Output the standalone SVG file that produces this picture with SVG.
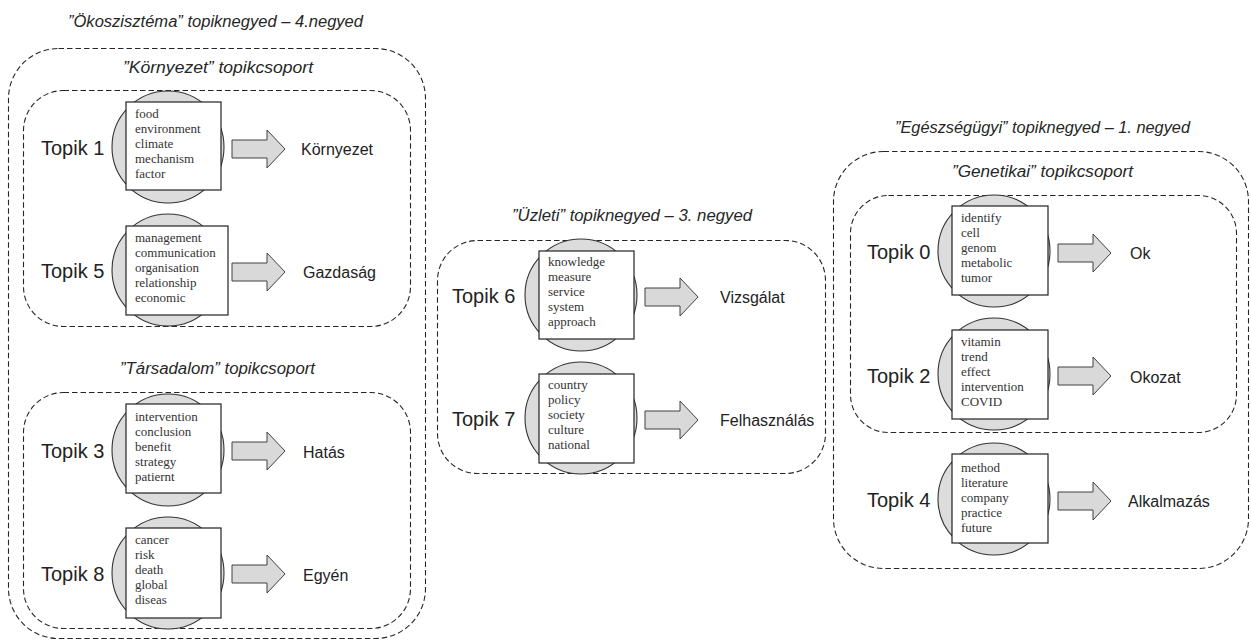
<svg xmlns="http://www.w3.org/2000/svg" xmlns:xlink="http://www.w3.org/1999/xlink" width="1251" height="641" viewBox="0 0 1251 641">
  <style>
    .bg { fill: #ffffff; }
    .frame { fill: none; stroke: #262626; stroke-width: 1.1; stroke-dasharray: 5.5 3; }
    .title { font-family: "Liberation Sans", Arial, sans-serif; font-style: italic; font-size: 16px; fill: #262626; text-anchor: middle; }
    .disc { fill: #dcdcdc; stroke: #333333; stroke-width: 1.1; }
    .card { fill: #ffffff; stroke: #222222; stroke-width: 1.2; }
    .words { font-family: "Liberation Serif", "Times New Roman", serif; font-size: 13px; fill: #333333; }
    .topic { font-family: "Liberation Sans", Arial, sans-serif; font-size: 20px; fill: #222222; }
    .result { font-family: "Liberation Sans", Arial, sans-serif; font-size: 16px; fill: #222222; }
    .arrow { fill: #d9d9d9; stroke: #404040; stroke-width: 1; }
  </style>
  <defs>
    <!-- block arrow, tail at x=0, centred on y=0 -->
    <path id="blockArrow" class="arrow" d="M0,-9 H35 V-19 L53,0 L35,19 V9 H0 Z"/>
  </defs>

  <rect class="bg" x="0" y="0" width="1251" height="641"/>

  <!-- quarter and group frames -->
  <g id="frames">
    <rect id="quarter-4" class="frame" x="8.5" y="48.5" width="417" height="590" rx="50"/>
    <rect id="group-kornyezet" class="frame" x="23.5" y="90.5" width="387" height="236" rx="40"/>
    <rect id="group-tarsadalom" class="frame" x="23.5" y="392.5" width="387" height="236" rx="40"/>
    <rect id="quarter-3" class="frame" x="437.5" y="240.5" width="388" height="233" rx="40"/>
    <rect id="quarter-1" class="frame" x="833.5" y="151.5" width="415" height="417" rx="50"/>
    <rect id="group-genetikai" class="frame" x="850.5" y="195.5" width="386" height="237" rx="38"/>
  </g>

  <g id="titles">
    <text class="title" x="215.5" y="27" textLength="295" lengthAdjust="spacingAndGlyphs">”Ökoszisztéma” topiknegyed – 4.negyed</text>
    <text class="title" x="218" y="73" textLength="190" lengthAdjust="spacingAndGlyphs">”Környezet” topikcsoport</text>
    <text class="title" x="217.5" y="374" textLength="195" lengthAdjust="spacingAndGlyphs">”Társadalom” topikcsoport</text>
    <text class="title" x="632" y="221" textLength="240" lengthAdjust="spacingAndGlyphs">”Üzleti” topiknegyed – 3. negyed</text>
    <text class="title" x="1042.5" y="133" textLength="295" lengthAdjust="spacingAndGlyphs">”Egészségügyi” topiknegyed – 1. negyed</text>
    <text class="title" x="1042.5" y="177" textLength="181" lengthAdjust="spacingAndGlyphs">”Genetikai” topikcsoport</text>
  </g>

  <!-- connectors: topic → interpretation -->
  <g id="connectors">
    <use xlink:href="#blockArrow" href="#blockArrow" x="232" y="149"/>
    <use xlink:href="#blockArrow" href="#blockArrow" x="232" y="272"/>
    <use xlink:href="#blockArrow" href="#blockArrow" x="232" y="451"/>
    <use xlink:href="#blockArrow" href="#blockArrow" x="232" y="574"/>
    <use xlink:href="#blockArrow" href="#blockArrow" x="645" y="297"/>
    <use xlink:href="#blockArrow" href="#blockArrow" x="645" y="420"/>
    <use xlink:href="#blockArrow" href="#blockArrow" x="1058" y="253"/>
    <use xlink:href="#blockArrow" href="#blockArrow" x="1058" y="376"/>
    <use xlink:href="#blockArrow" href="#blockArrow" x="1058" y="501"/>
  </g>

  <!-- topic nodes: disc, word card, topic name, interpretation -->
  <g id="topik-1" transform="translate(168,147)">
    <circle class="disc" cx="0" cy="0" r="56"/>
    <rect class="card" x="-42" y="-45" width="95" height="88"/>
    <text class="words" x="-33" y="-29">food</text>
    <text class="words" x="-33" y="-14">environment</text>
    <text class="words" x="-33" y="1">climate</text>
    <text class="words" x="-33" y="16">mechanism</text>
    <text class="words" x="-33" y="31">factor</text>
    <text class="topic" x="-127" y="8">Topik 1</text>
    <text class="result" x="133" y="8">Környezet</text>
  </g>

  <g id="topik-5" transform="translate(168,270)">
    <circle class="disc" cx="0" cy="0" r="56"/>
    <rect class="card" x="-42" y="-44" width="102" height="89"/>
    <text class="words" x="-33" y="-28">management</text>
    <text class="words" x="-33" y="-13">communication</text>
    <text class="words" x="-33" y="2">organisation</text>
    <text class="words" x="-33" y="17">relationship</text>
    <text class="words" x="-33" y="32">economic</text>
    <text class="topic" x="-127" y="8">Topik 5</text>
    <text class="result" x="135" y="8">Gazdaság</text>
  </g>

  <g id="topik-3" transform="translate(168,450)">
    <circle class="disc" cx="0" cy="0" r="56"/>
    <rect class="card" x="-42" y="-46" width="95" height="89"/>
    <text class="words" x="-33" y="-29">intervention</text>
    <text class="words" x="-33" y="-14">conclusion</text>
    <text class="words" x="-33" y="1">benefit</text>
    <text class="words" x="-33" y="16">strategy</text>
    <text class="words" x="-33" y="31">patiernt</text>
    <text class="topic" x="-127" y="8">Topik 3</text>
    <text class="result" x="135" y="8">Hatás</text>
  </g>

  <g id="topik-8" transform="translate(168,573)">
    <circle class="disc" cx="0" cy="0" r="56"/>
    <rect class="card" x="-42" y="-45" width="95" height="90"/>
    <text class="words" x="-33" y="-29">cancer</text>
    <text class="words" x="-33" y="-14">risk</text>
    <text class="words" x="-33" y="1">death</text>
    <text class="words" x="-33" y="16">global</text>
    <text class="words" x="-33" y="31">diseas</text>
    <text class="topic" x="-127" y="8">Topik 8</text>
    <text class="result" x="135" y="8">Egyén</text>
  </g>

  <g id="topik-6" transform="translate(581,295)">
    <circle class="disc" cx="0" cy="0" r="56"/>
    <rect class="card" x="-42" y="-44" width="95" height="88"/>
    <text class="words" x="-33" y="-29">knowledge</text>
    <text class="words" x="-33" y="-14">measure</text>
    <text class="words" x="-33" y="1">service</text>
    <text class="words" x="-33" y="16">system</text>
    <text class="words" x="-33" y="31">approach</text>
    <text class="topic" x="-129" y="8">Topik 6</text>
    <text class="result" x="139" y="8">Vizsgálat</text>
  </g>

  <g id="topik-7" transform="translate(581,418)">
    <circle class="disc" cx="0" cy="0" r="56"/>
    <rect class="card" x="-42" y="-44" width="95" height="89"/>
    <text class="words" x="-33" y="-29">country</text>
    <text class="words" x="-33" y="-14">policy</text>
    <text class="words" x="-33" y="1">society</text>
    <text class="words" x="-33" y="16">culture</text>
    <text class="words" x="-33" y="31">national</text>
    <text class="topic" x="-129" y="8">Topik 7</text>
    <text class="result" x="139" y="8">Felhasználás</text>
  </g>

  <g id="topik-0" transform="translate(994,251)">
    <circle class="disc" cx="0" cy="0" r="56"/>
    <rect class="card" x="-42" y="-45" width="96" height="89"/>
    <text class="words" x="-33" y="-29">identify</text>
    <text class="words" x="-33" y="-14">cell</text>
    <text class="words" x="-33" y="1">genom</text>
    <text class="words" x="-33" y="16">metabolic</text>
    <text class="words" x="-33" y="31">tumor</text>
    <text class="topic" x="-127" y="8">Topik 0</text>
    <text class="result" x="136" y="8">Ok</text>
  </g>

  <g id="topik-2" transform="translate(994,374)">
    <circle class="disc" cx="0" cy="0" r="56"/>
    <rect class="card" x="-42" y="-44" width="96" height="89"/>
    <text class="words" x="-33" y="-28">vitamin</text>
    <text class="words" x="-33" y="-13">trend</text>
    <text class="words" x="-33" y="2">effect</text>
    <text class="words" x="-33" y="17">intervention</text>
    <text class="words" x="-33" y="32">COVID</text>
    <text class="topic" x="-127" y="9">Topik 2</text>
    <text class="result" x="136" y="9">Okozat</text>
  </g>

  <g id="topik-4" transform="translate(994,499)">
    <circle class="disc" cx="0" cy="0" r="56"/>
    <rect class="card" x="-42" y="-45" width="96" height="89"/>
    <text class="words" x="-33" y="-27">method</text>
    <text class="words" x="-33" y="-12">literature</text>
    <text class="words" x="-33" y="3">company</text>
    <text class="words" x="-33" y="18">practice</text>
    <text class="words" x="-33" y="33">future</text>
    <text class="topic" x="-127" y="8">Topik 4</text>
    <text class="result" x="134" y="8">Alkalmazás</text>
  </g>
</svg>
